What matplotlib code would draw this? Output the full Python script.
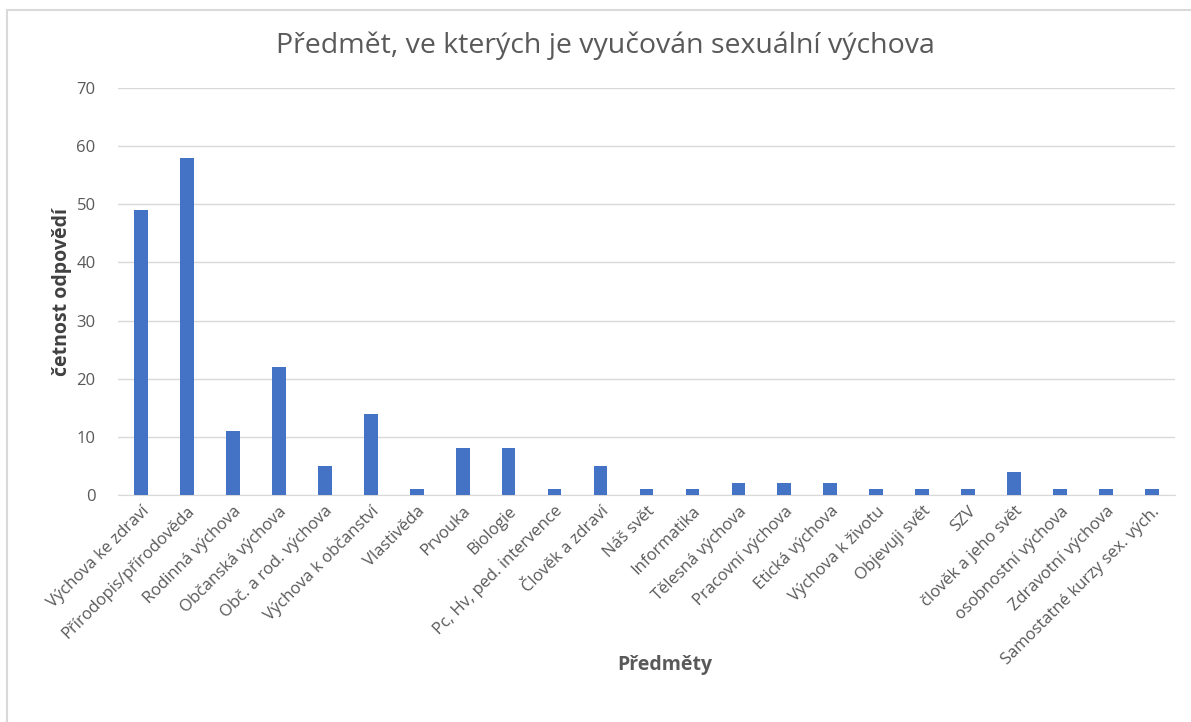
import matplotlib.pyplot as plt
from matplotlib.lines import Line2D

subjects = [
    "Výchova ke zdraví", "Přírodopis/přírodověda", "Rodinná výchova",
    "Občanská výchova", "Obč. a rod. výchova", "Výchova k občanství",
    "Vlastivěda", "Prvouka", "Biologie", "Pc, Hv, ped. intervence",
    "Člověk a zdraví", "Náš svět", "Informatika", "Tělesná výchova",
    "Pracovní výchova", "Etická výchova", "Výchova k životu",
    "Objevuji svět", "SZV", "člověk a jeho svět", "osobnostní výchova",
    "Zdravotní výchova", "Samostatné kurzy sex. vých.",
]
counts = [49, 58, 11, 22, 5, 14, 1, 8, 8, 1, 5, 1, 1, 2, 2, 2, 1, 1, 1, 4, 1, 1, 1]
y_ticks = [0, 10, 20, 30, 40, 50, 60, 70]

plt.rcParams["font.family"] = ["Open Sans", "DejaVu Sans"]
text_color = "#595959"

fig = plt.figure(figsize=(11.91, 7.22), dpi=100)
ax = fig.add_axes([0.099, 0.3144, 0.8876, 0.5637])

x = range(len(subjects))
ax.bar(x, counts, width=0.3, color="#4472C4", zorder=3)

ax.set_xlim(-0.5, len(subjects) - 0.5)
ax.set_ylim(0, 70)
ax.set_yticks(y_ticks)
ax.set_xticks(list(x))
ax.set_xticklabels(subjects, rotation=45, ha="right", rotation_mode="anchor",
                   fontsize=12, color=text_color)
ax.tick_params(axis="y", labelsize=12, labelcolor=text_color, length=0, pad=16)
ax.tick_params(axis="x", length=0, pad=6)
ax.grid(axis="y", color="#d9d9d9", linewidth=1, zorder=0)
for side in ["top", "right", "left"]:
    ax.spines[side].set_visible(False)
ax.spines["bottom"].set_color("#d9d9d9")

ax.set_ylabel("četnost odpovědí", fontsize=14, fontweight="bold", color="#404040", labelpad=3)
fig.text(0.558, 0.079, "Předměty", ha="center", va="center", fontsize=14,
         fontweight="bold", color=text_color)
fig.text(0.508, 0.937, "Předmět, ve kterých je vyučován sexuální výchova",
         ha="center", va="center", fontsize=20.5, color=text_color)

# chart frame
fig.add_artist(Line2D([7 / 1191, 1], [1 - 10 / 722, 1 - 10 / 722], color="#d9d9d9", lw=1.5))
fig.add_artist(Line2D([7 / 1191, 7 / 1191], [0, 1 - 10 / 722], color="#d9d9d9", lw=1.5))

fig.savefig("out.png", dpi=100)
